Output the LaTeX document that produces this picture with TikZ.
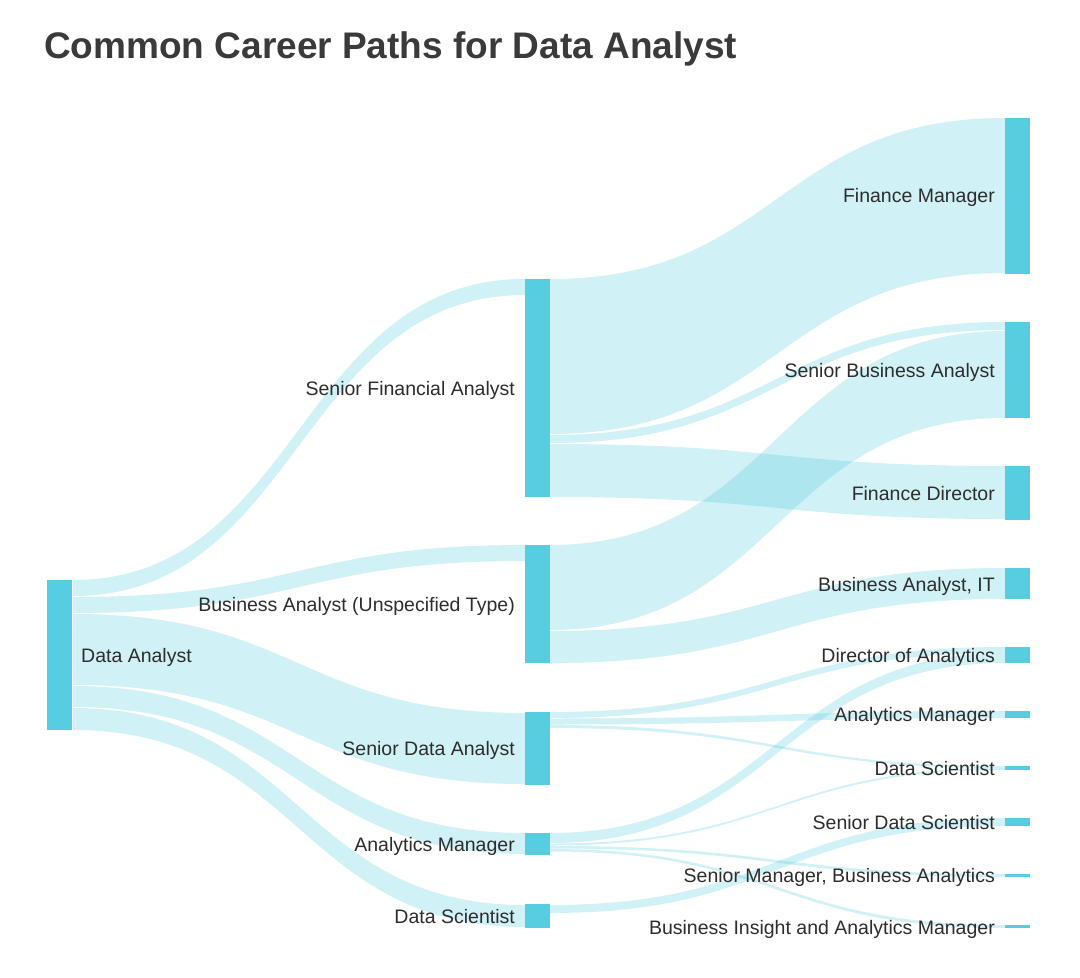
\documentclass[tikz,border=0pt]{standalone}
\usepackage{fontspec}
\setmainfont{Liberation Sans}
\definecolor{barc}{RGB}{87,205,225}
\definecolor{txt}{RGB}{45,45,45}
\definecolor{titlec}{RGB}{58,58,58}
\tikzset{
  bar/.style={fill=barc, draw=none, inner sep=0pt, outer sep=0pt, minimum width=25pt, anchor=north west},
  link/.style={fill=barc, fill opacity=0.28, draw=none},
  lab/.style={text=txt, font=\fontsize{19.5}{22}\selectfont, inner sep=0pt},
}
% band from x=#1 to x=#2; left span #3..#4, right span #5..#6
\newcommand\band[6]{%
  \fill[link] (#1,#3) .. controls ({(#1+#2)/2},#3) and ({(#1+#2)/2},#5) .. (#2,#5)
    -- (#2,#6) .. controls ({(#1+#2)/2},#6) and ({(#1+#2)/2},#4) .. (#1,#4) -- cycle;}
\newcommand\sbar[4]{\node[bar, minimum height=#4pt] (#1) at (#2,#3) {};}
\begin{document}
\begin{tikzpicture}[x=1pt,y=-1pt]
\useasboundingbox (0,0) rectangle (1080,978);
\fill[white] (0,0) rectangle (1080,978);
% title
\node[anchor=base west, inner sep=0pt, text=titlec, font=\fontsize{37}{40}\selectfont\bfseries] (title) at (44,58) {Common Career Paths for Data Analyst};
% ---- links, column 1 -> 2
\band{73}{525}{580}{596}{279}{295}
\band{73}{525}{597}{613}{545}{561}
\band{73}{525}{614}{685}{713}{784}
\band{73}{525}{686}{707}{833}{854}
\band{73}{525}{708}{730}{905}{927}
% ---- links, column 2 -> 3
\band{550}{1005}{279}{434}{118}{273}
\band{550}{1005}{435}{443}{322}{330}
\band{550}{1005}{444}{497}{466}{519}
\band{550}{1005}{545}{630}{331}{418}
\band{550}{1005}{631}{663}{568}{599}
\band{550}{1005}{712}{718}{647}{653}
\band{550}{1005}{718.5}{724.5}{711}{718}
\band{550}{1005}{725}{728}{766}{768}
\band{550}{1005}{833}{843}{653}{663}
\band{550}{1005}{843.5}{845.5}{768}{770}
\band{550}{1005}{846}{848.5}{874}{877}
\band{550}{1005}{849}{851.5}{925}{928}
\band{550}{1005}{905}{913}{818}{826}
% ---- bars
\sbar{da}{47}{580}{150}
\sbar{sfa}{525}{279}{218}
\sbar{ba}{525}{545}{118}
\sbar{sda}{525}{712}{73}
\sbar{am}{525}{833}{22}
\sbar{ds}{525}{904}{24}
\sbar{fm}{1005}{118}{156}
\sbar{sba}{1005}{322}{96}
\sbar{fd}{1005}{466}{54}
\sbar{bait}{1005}{568}{31}
\sbar{doa}{1005}{647}{16}
\sbar{amr}{1005}{711}{7}
\sbar{dsr}{1005}{766}{4}
\sbar{sds}{1005}{818}{8}
\sbar{smba}{1005}{874}{3}
\sbar{biam}{1005}{925}{3}
% ---- labels
\node[lab, anchor=base west] (lda) at (81,662) {Data Analyst};
\node[lab, anchor=base east] (lsfa) at (515,395) {Senior Financial Analyst};
\node[lab, anchor=base east] (lba) at (515,611) {Business Analyst (Unspecified Type)};
\node[lab, anchor=base east] (lsda) at (515,755) {Senior Data Analyst};
\node[lab, anchor=base east] (lam) at (515,851) {Analytics Manager};
\node[lab, anchor=base east] (lds) at (515,923) {Data Scientist};
\node[lab, anchor=base east] (lfm) at (995,202) {Finance Manager};
\node[lab, anchor=base east] (lsba) at (995,377) {Senior Business Analyst};
\node[lab, anchor=base east] (lfd) at (995,500) {Finance Director};
\node[lab, anchor=base east] (lbait) at (995,591) {Business Analyst, IT};
\node[lab, anchor=base east] (ldoa) at (995,662) {Director of Analytics};
\node[lab, anchor=base east] (lamr) at (995,721) {Analytics Manager};
\node[lab, anchor=base east] (ldsr) at (995,775) {Data Scientist};
\node[lab, anchor=base east] (lsds) at (995,829) {Senior Data Scientist};
\node[lab, anchor=base east] (lsmba) at (995,882) {Senior Manager, Business Analytics};
\node[lab, anchor=base east] (lbiam) at (995,934) {Business Insight and Analytics Manager};
\end{tikzpicture}
\end{document}
